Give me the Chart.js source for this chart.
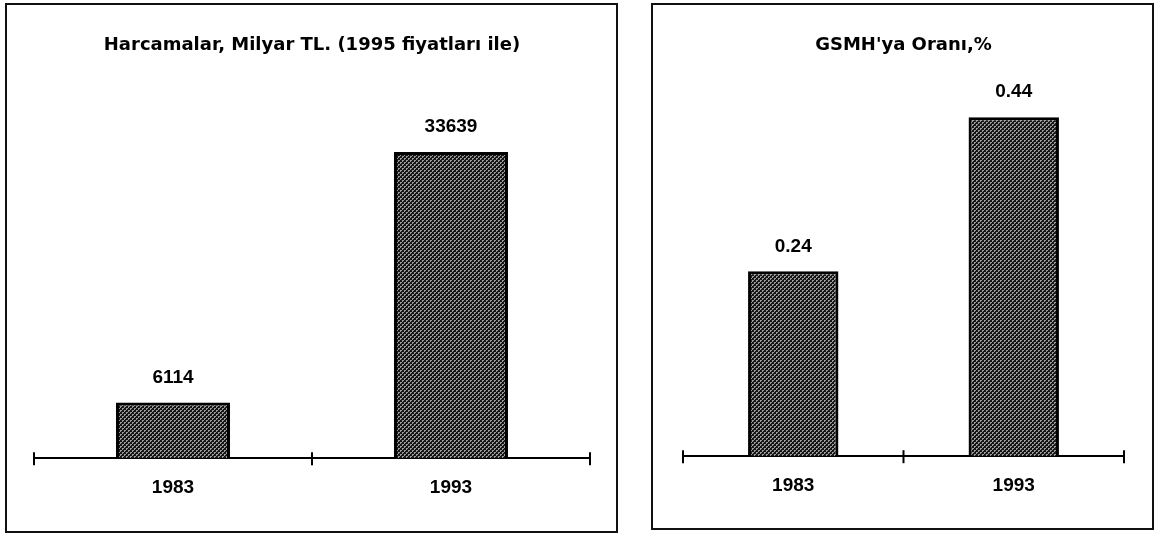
<!DOCTYPE html>
<html>
<head>
<meta charset="utf-8">
<script src="https://cdn.jsdelivr.net/npm/chart.js@4.4.1/dist/chart.umd.min.js"></script>
<style>
  html, body { margin: 0; padding: 0; background: #fff; }
  body { width: 1156px; height: 536px; position: relative; overflow: hidden; }
  .panel { position: absolute; border: 2px solid #111; box-sizing: border-box; background: #fff; }
  #p1 { left: 5px; top: 3px; width: 613px; height: 530px; }
  #p2 { left: 651px; top: 3px; width: 503px; height: 527px; }
  canvas { position: absolute; left: 0; top: 0; }
</style>
</head>
<body>
<div class="panel" id="p1"><canvas id="c1" width="609" height="526"></canvas></div>
<div class="panel" id="p2"><canvas id="c2" width="499" height="523"></canvas></div>
<script>
// ---- data ----
const categories = ['1983', '1993'];
const spendingValues = [6114, 33639];          // Harcamalar, Milyar TL. (1995 fiyatları ile)
const gnpShareValues = [0.24, 0.44];           // GSMH'ya Oranı, %
const titleLeft = 'Harcamalar, Milyar TL. (1995 fiyatları ile)';
const titleRight = "GSMH'ya Oranı,%";
const spendingLabels = ['6114', '33639'];
const gnpShareLabels = ['0.24', '0.44'];

const FONT = '"Liberation Sans", Arial, Helvetica, sans-serif';
const TITLE_FONT = '"DejaVu Sans", "Liberation Sans", Arial, sans-serif';

function makePattern() {
  const c = document.createElement('canvas');
  c.width = 4; c.height = 4;
  const g = c.getContext('2d');
  g.fillStyle = '#9a9a9a';
  g.fillRect(0, 0, 4, 4);
  g.fillStyle = '#161616';
  for (let y = 0; y < 4; y++) {
    for (let x = 0; x < 4; x++) {
      if ((x + y) % 4 === 0 || (x + y) % 4 === 1) g.fillRect(x, y, 1, 1);
      if ((x - y + 8) % 4 === 2 && y % 2 === 0) g.fillRect(x, y, 1, 1);
    }
  }
  return g.createPattern(c, 'repeat');
}

const valueLabelPlugin = {
  id: 'valueLabels',
  afterDatasetsDraw(chart, args, opts) {
    const ctx = chart.ctx;
    const meta = chart.getDatasetMeta(0);
    ctx.save();
    ctx.font = 'bold 19px ' + FONT;
    ctx.fillStyle = '#000';
    ctx.textAlign = 'center';
    ctx.textBaseline = 'middle';
    meta.data.forEach((bar, i) => {
      ctx.fillText(opts.labels[i], bar.x, bar.y - 25);
    });
    ctx.restore();
  }
};

const crossTickPlugin = {
  id: 'crossTicks',
  afterDraw(chart) {
    const xs = chart.scales.x;
    const ctx = chart.ctx;
    const y = chart.chartArea.bottom;
    ctx.save();
    ctx.strokeStyle = '#000';
    ctx.lineWidth = 2;
    for (let v = -0.5; v <= categories.length - 0.5; v += 1) {
      const x = xs.getPixelForValue(v);
      ctx.beginPath();
      ctx.moveTo(x, y - 6);
      ctx.lineTo(x, y + 7);
      ctx.stroke();
    }
    ctx.restore();
  }
};

function makeChart(id, values, labels, title, yMax, pad, titleBottom) {
  return new Chart(document.getElementById(id), {
    type: 'bar',
    data: {
      labels: categories,
      datasets: [{
        data: values,
        backgroundColor: makePattern(),
        borderColor: '#000',
        borderWidth: 3,
        borderSkipped: 'start',
        categoryPercentage: 1.0,
        barPercentage: 0.41
      }]
    },
    options: {
      responsive: false,
      animation: false,
      devicePixelRatio: 1,
      layout: { padding: pad },
      plugins: {
        legend: { display: false },
        tooltip: { enabled: false },
        title: {
          display: true,
          text: title,
          color: '#000',
          font: { family: TITLE_FONT, size: 18, weight: 'bold', lineHeight: 1.2 },
          padding: { top: 30, bottom: titleBottom }
        },
        valueLabels: { labels: labels }
      },
      scales: {
        x: {
          grid: { display: false, drawTicks: false },
          border: { display: true, color: '#000', width: 2 },
          ticks: {
            color: '#000',
            padding: 18,
            font: { family: FONT, size: 19, weight: 'bold', lineHeight: 1.2 }
          }
        },
        y: {
          display: false,
          min: 0,
          max: yMax
        }
      }
    },
    plugins: [valueLabelPlugin, crossTickPlugin]
  });
}

makeChart('c1', spendingValues, spendingLabels, titleLeft, 40000,
  { left: 27, right: 26, top: 0, bottom: 14 }, 37.5);
makeChart('c2', gnpShareValues, gnpShareLabels, titleRight, 0.5,
  { left: 30, right: 28, top: 0, bottom: 13 }, 14.4);
</script>
</body>
</html>
